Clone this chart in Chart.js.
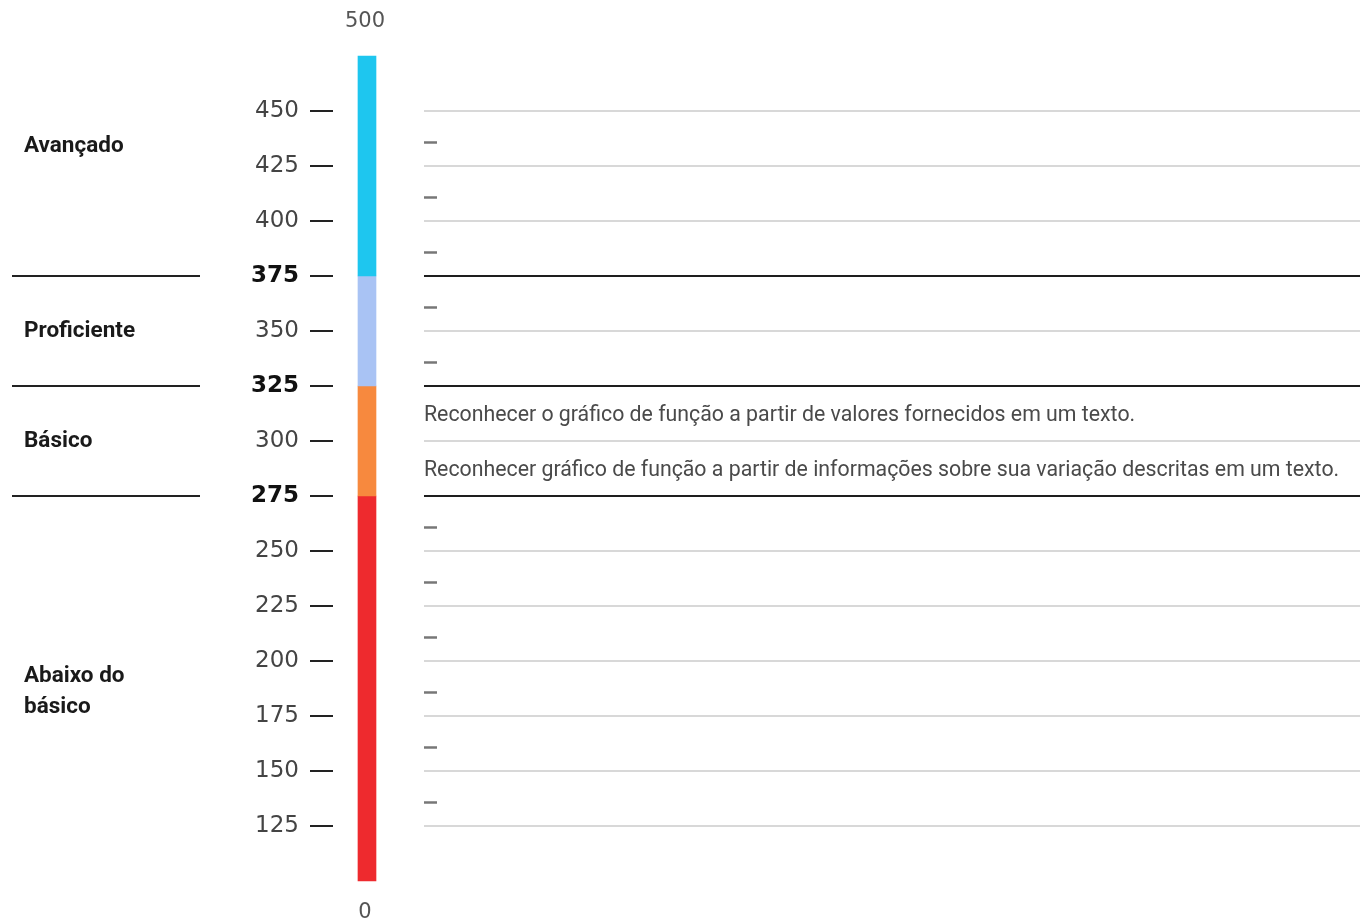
<!DOCTYPE html>
<html lang="pt">
<head>
<meta charset="utf-8">
<title>Escala de proficiência</title>
<script src="https://cdn.jsdelivr.net/npm/chart.js@4.4.1/dist/chart.umd.min.js"></script>
<style>
  html, body { margin: 0; padding: 0; background: #ffffff; }
  .chart-wrap { position: relative; width: 1360px; height: 924px; }
</style>
</head>
<body>
<div class="chart-wrap"><canvas id="scaleChart"></canvas></div>
<script>
const tickValues = [125, 150, 175, 200, 225, 250, 275, 300, 325, 350, 375, 400, 425, 450];
const cutPoints = [275, 325, 375];

const levelNames = [["Abaixo do", "básico"], ["Básico"], ["Proficiente"], ["Avançado"]];
const levelLabelValues = [186, 300, 350, 434];
const levelRanges = [[100, 275], [275, 325], [325, 375], [375, 475]];
const levelColors = ["#ee2a2e", "#f7893e", "#a9c3f4", "#1ec6ef"];

const scaleEndLabels = ["500", "0"];

const itemValues = [437.5, 412.5, 387.5, 362.5, 337.5, 312.5, 287.5, 262.5, 237.5, 212.5, 187.5, 162.5, 137.5];
const itemTexts = [
  "", "", "", "", "",
  "Reconhecer o gráfico de função a partir de valores fornecidos em um texto.",
  "Reconhecer gráfico de função a partir de informações sobre sua variação descritas em um texto.",
  "", "", "", "", "", ""
];

// horizontal positions on the hidden x scale (0..100 across the plot area)
const BAR_X = 3.31;
const LINE_START = 8.86;
const LINE_END = 100;

function isCut(ctx) {
  return !!ctx.tick && cutPoints.includes(ctx.tick.value);
}

function hLine(value, color) {
  return {
    type: "line",
    data: [{ x: LINE_START, y: value }, { x: LINE_END, y: value }],
    borderColor: color,
    borderWidth: 2,
    pointRadius: 0,
  };
}

const scaleText = {
  id: "scaleText",
  afterDraw(chart) {
    const { ctx, scales } = chart;
    const y = scales.y;
    const x = scales.x;
    ctx.save();

    // level boundaries on the left
    ctx.strokeStyle = "#222";
    ctx.lineWidth = 2;
    cutPoints.forEach(v => {
      const py = Math.round(y.getPixelForValue(v));
      ctx.beginPath();
      ctx.moveTo(12, py);
      ctx.lineTo(200, py);
      ctx.stroke();
    });

    // level names
    ctx.fillStyle = "#1a1a1a";
    ctx.font = "bold 22.5px Roboto";
    ctx.textAlign = "left";
    ctx.textBaseline = "middle";
    levelNames.forEach((lines, i) => {
      const py = y.getPixelForValue(levelLabelValues[i]);
      const lh = 31;
      const top = py - (lines.length - 1) * lh / 2;
      lines.forEach((t, j) => ctx.fillText(t, 24, top + j * lh));
    });

    // scale ends above and below the bar
    const bx = x.getPixelForValue(BAR_X);
    ctx.fillStyle = "#555";
    ctx.font = "21px 'DejaVu Sans'";
    ctx.textAlign = "center";
    ctx.fillText(scaleEndLabels[0], bx - 2, y.getPixelForValue(levelRanges[3][1]) - 34);
    ctx.fillText(scaleEndLabels[1], bx - 2, y.getPixelForValue(levelRanges[0][0]) + 32);

    // item descriptions, a short dash where there is none
    const tx = x.getPixelForValue(LINE_START);
    ctx.textAlign = "left";
    ctx.textBaseline = "alphabetic";
    ctx.fillStyle = "#4a4a4a";
    ctx.font = "21.3px Roboto";
    ctx.strokeStyle = "#777";
    ctx.lineWidth = 2.5;
    itemTexts.forEach((t, i) => {
      const py = y.getPixelForValue(itemValues[i]);
      if (t) {
        ctx.fillText(t, tx, py + 7.5);
      } else {
        ctx.beginPath();
        ctx.moveTo(tx, py + 4);
        ctx.lineTo(tx + 13, py + 4);
        ctx.stroke();
      }
    });

    ctx.restore();
  },
};

new Chart(document.getElementById("scaleChart"), {
  type: "bar",
  data: {
    datasets: [
      {
        type: "bar",
        data: levelRanges.map(r => ({ x: BAR_X, y: r })),
        backgroundColor: levelColors,
        borderWidth: 0,
        barThickness: 18,
      },
      ...tickValues.filter(v => !cutPoints.includes(v)).map(v => hLine(v, "#d8d8d8")),
      ...cutPoints.map(v => hLine(v, "#1e1e1e")),
    ],
  },
  options: {
    responsive: true,
    maintainAspectRatio: false,
    animation: false,
    layout: { padding: 0 },
    plugins: {
      legend: { display: false },
      tooltip: { enabled: false },
    },
    scales: {
      x: {
        type: "linear",
        display: false,
        offset: false,
        min: 0,
        max: 100,
      },
      y: {
        min: 80.45,
        max: 500.45,
        afterBuildTicks: scale => {
          scale.ticks = tickValues.map(value => ({ value }));
        },
        afterFit: scale => {
          scale.width = 333;
          scale.paddingTop = 0;
          scale.paddingBottom = 0;
        },
        border: { display: false },
        grid: {
          drawOnChartArea: false,
          drawTicks: true,
          tickLength: 23,
          color: "#222",
          lineWidth: 2,
        },
        ticks: {
          autoSkip: false,
          padding: 11,
          color: ctx => (isCut(ctx) ? "#111" : "#444"),
          font: ctx => ({
            family: "'DejaVu Sans'",
            size: 23,
            weight: isCut(ctx) ? "bold" : "normal",
          }),
          callback: v => String(v),
        },
      },
    },
  },
  plugins: [scaleText],
});
</script>
</body>
</html>
